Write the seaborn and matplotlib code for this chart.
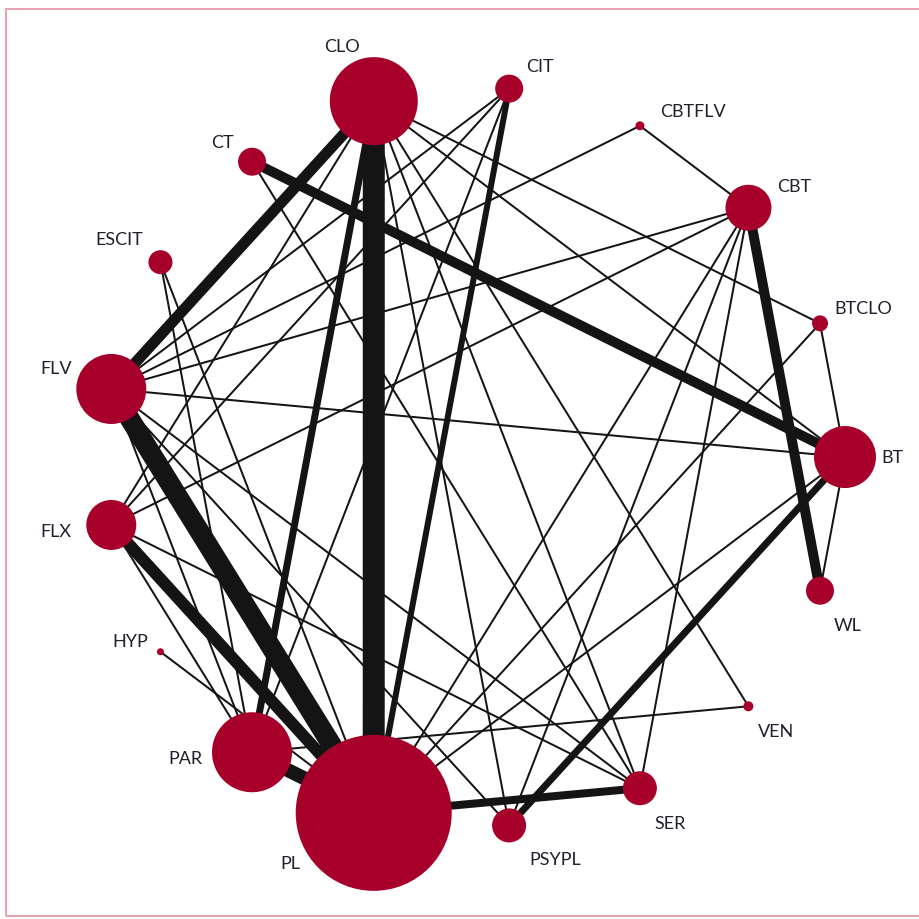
import numpy as np
import matplotlib
matplotlib.use("Agg")
import matplotlib.pyplot as plt
import seaborn as sns
from matplotlib.patches import Rectangle

sns.set_theme(style="white")
plt.rcParams["font.family"] = ["Lato", "DejaVu Sans"]

# treatments in circular order, clockwise from the top
treatments = ["CIT", "CBTFLV", "CBT", "BTCLO", "BT", "WL", "VEN", "SER", "PSYPL",
              "PL", "PAR", "HYP", "FLX", "FLV", "ESCIT", "CT", "CLO"]
# node size (relative number of patients)
node_size = [14, 4.5, 23, 8, 31, 14, 5, 17, 17, 78, 40, 3.5, 25, 35, 12, 14, 44]

# direct comparisons and their weight (number of trials)
edge_from = ["CLO", "FLV", "PAR", "FLX", "CLO", "CT", "CBT", "PL", "CLO", "PSYPL", "CIT",
             "CBTFLV", "CBTFLV", "CLO", "CLO", "CLO", "CLO", "CLO", "CLO",
             "CIT", "CIT", "CIT",
             "CBT", "CBT", "CBT", "CBT", "CBT",
             "BTCLO", "BTCLO", "BT", "BT", "BT",
             "VEN", "SER", "SER", "ESCIT", "ESCIT", "CT", "HYP",
             "FLV", "FLX", "FLV"]
edge_to = ["PL", "PL", "PL", "PL", "FLV", "BT", "WL", "SER", "PAR", "BT", "PL",
           "CBT", "FLV", "BTCLO", "BT", "VEN", "SER", "PSYPL", "FLX",
           "FLV", "FLX", "PAR",
           "FLV", "FLX", "PL", "PSYPL", "SER",
           "BT", "PL", "FLV", "WL", "PL",
           "PAR", "FLX", "FLV", "PL", "PAR", "SER", "PL",
           "PAR", "PAR", "PSYPL"]
edge_weight = [22, 20, 14, 12, 11, 10, 10, 8, 7, 7, 6,
               2, 2, 2, 2, 2, 2, 2, 2,
               2, 2, 2,
               2, 2, 2, 2, 2,
               2, 2, 2, 2, 2,
               2, 2, 2, 2, 2, 2, 2,
               2, 2, 2]

# circular layout
n = len(treatments)
start = np.deg2rad(5.3)
theta = start + np.arange(n) * 2 * np.pi / n
pos_x = np.sin(theta)
pos_y = np.cos(theta)
pos = {t: (x, y) for t, x, y in zip(treatments, pos_x, pos_y)}

# label offsets (points)
label_offset = {
    "CIT": (22, 16), "CBTFLV": (38, 11), "CBT": (33, 16), "BTCLO": (31, 11),
    "BT": (34, 0), "WL": (20, -25), "VEN": (20, -18), "SER": (22, -25),
    "PSYPL": (33, -24), "PL": (-60, -36), "PAR": (-48, -4), "HYP": (-22, 8),
    "FLX": (-40, -4), "FLV": (-40, 15), "ESCIT": (-30, 17), "CT": (-21, 14),
    "CLO": (-23, 40),
}

PX = 0.72  # points per pixel at dpi 100
node_color = "#a6002b"
text_color = "#20202e"

fig = plt.figure(figsize=(9.19, 9.2), dpi=100)
ax = fig.add_axes([0, 0, 1, 1])
R = 370.0
ax.set_xlim(-475 / R, (919 - 475) / R)
ax.set_ylim(-(920 - 458) / R, 458 / R)
ax.set_axis_off()

order = np.argsort(edge_weight)
for i in order:
    (x0, y0), (x1, y1) = pos[edge_from[i]], pos[edge_to[i]]
    ax.plot([x0, x1], [y0, y1], color="#141414",
            lw=edge_weight[i] * PX, solid_capstyle="butt", zorder=2)

sizes = [(2 * r * PX) ** 2 for r in node_size]
sns.scatterplot(x=pos_x, y=pos_y, s=sizes, color=node_color, edgecolor="none",
                linewidth=0, ax=ax, zorder=3, legend=False)

for t in treatments:
    dx, dy = label_offset[t]
    ax.annotate(t, pos[t], xytext=(dx, dy), textcoords="offset points",
                ha="center", va="center", fontsize=13, color=text_color, zorder=4)

# thin pink frame
ax.add_patch(Rectangle((6 / R - 475 / R, -(917 - 458) / R), 960 / R, 907 / R,
                       fill=False, edgecolor="#e9a3b3", lw=1.5, zorder=1))

fig.savefig("out.png", dpi=100)
plt.close(fig)
